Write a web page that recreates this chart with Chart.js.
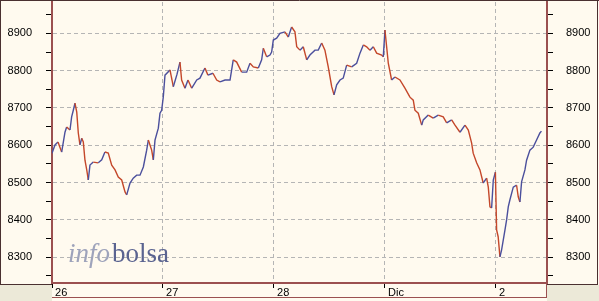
<!DOCTYPE html>
<html>
<head>
<meta charset="utf-8">
<script src="https://cdn.jsdelivr.net/npm/chart.js@4"></script>
<style>
  html, body { margin: 0; padding: 0; background: #fffaef; }
  canvas { display: block; }
</style>
</head>
<body>
<canvas id="chart" width="599" height="301"></canvas>
<script>
// etiquetas de los días (eje x en unidades de día)
const dayLabels = ['26', '27', '28', 'Dic', '2'];

// tiempo en días desde la apertura del 26
const times = [
  0.000, 0.027, 0.054, 0.087, 0.117, 0.132, 0.162, 0.177, 0.192, 0.207,
  0.223, 0.237, 0.252, 0.268, 0.282, 0.297, 0.313, 0.327, 0.342, 0.372,
  0.417, 0.448, 0.477, 0.507, 0.538, 0.568, 0.597, 0.628, 0.658, 0.673,
  0.703, 0.732, 0.763, 0.793, 0.823, 0.853, 0.868, 0.898, 0.913, 0.928,
  0.958, 0.973, 0.988,
  1.003, 1.018, 1.063, 1.093, 1.126, 1.153, 1.168, 1.198, 1.225, 1.259,
  1.304, 1.333, 1.378, 1.405, 1.450, 1.484, 1.514, 1.559, 1.604, 1.633,
  1.664, 1.709, 1.754, 1.784, 1.814, 1.859, 1.889, 1.904, 1.934, 1.964,
  1.979,
  1.994, 2.024, 2.054, 2.099, 2.129, 2.159, 2.189, 2.205, 2.234, 2.264,
  2.295, 2.324, 2.369, 2.399, 2.430, 2.459, 2.489, 2.520, 2.541, 2.565,
  2.595, 2.624, 2.655, 2.700, 2.745, 2.775, 2.805, 2.835, 2.865, 2.895,
  2.925, 2.970, 2.985,
  3.000, 3.030, 3.060, 3.090, 3.135, 3.180, 3.225, 3.255, 3.270, 3.300,
  3.331, 3.345, 3.390, 3.435, 3.480, 3.525, 3.556, 3.601, 3.631, 3.676,
  3.721, 3.751, 3.781, 3.795, 3.826, 3.856, 3.885, 3.916, 3.931, 3.946,
  3.961, 3.976, 3.995,
  4.006, 4.020, 4.036, 4.051, 4.081, 4.096, 4.111, 4.126, 4.156, 4.186,
  4.201, 4.216, 4.231, 4.261, 4.276, 4.306, 4.336, 4.366, 4.396, 4.410
];

// cotización
const prices = [
  8579, 8601, 8609, 8582, 8635, 8649, 8641, 8676, 8694, 8713,
  8689, 8633, 8601, 8619, 8609, 8560, 8534, 8507, 8547, 8555,
  8553, 8561, 8582, 8579, 8547, 8534, 8515, 8507, 8475, 8467,
  8499, 8512, 8520, 8520, 8542, 8587, 8614, 8587, 8561, 8614,
  8646, 8686, 8694,
  8730, 8788, 8802, 8757, 8790, 8823, 8775, 8753, 8775, 8753,
  8775, 8780, 8807, 8788, 8793, 8775, 8770, 8775, 8775, 8829,
  8823, 8796, 8796, 8820, 8810, 8807, 8829, 8860, 8837, 8842,
  8850,
  8882, 8887, 8900, 8904, 8890, 8917, 8904, 8864, 8855, 8864,
  8829, 8842, 8855, 8855, 8874, 8855, 8810, 8757, 8735, 8762,
  8775, 8780, 8815, 8810, 8820, 8847, 8869, 8864, 8855, 8864,
  8847, 8842, 8837,
  8909, 8820, 8775, 8783, 8775, 8753, 8729, 8721, 8694, 8686,
  8654, 8668, 8681, 8673, 8681, 8676, 8660, 8668, 8654, 8635,
  8654, 8641, 8606, 8579, 8553, 8534, 8499, 8512, 8488, 8435,
  8432, 8507, 8528,
  8373, 8355, 8301, 8320, 8373, 8400, 8435, 8454, 8488, 8493,
  8462, 8448, 8502, 8534, 8560, 8587, 8595, 8614, 8633, 8638
];

const BROWN = '#9b5050';
const CREAM = '#fffaef';
const GRID = '#b5b5b5';
const tickFont = { family: "'Liberation Sans', Arial, sans-serif", size: 11 };

// fondo, marco y marca de agua
const frame = {
  id: 'frame',
  beforeDraw(chart) {
    const { ctx, width, height, chartArea: a } = chart;
    ctx.save();
    ctx.fillStyle = CREAM;
    ctx.fillRect(0, 0, width, height);
    ctx.fillStyle = '#ece9d8';
    ctx.fillRect(0, a.bottom + 2, a.left, height);
    ctx.fillRect(a.right, a.bottom + 2, width - a.right, height);
    ctx.restore();
  },
  beforeDatasetsDraw(chart) {
    const { ctx, chartArea: a } = chart;
    ctx.save();
    ctx.textBaseline = 'alphabetic';
    ctx.font = "italic 27px 'Liberation Serif', 'DejaVu Serif', serif";
    ctx.fillStyle = '#9ea3bb';
    const x0 = a.left + 16, y0 = 262;
    ctx.fillText('info', x0, y0);
    const w = ctx.measureText('info').width;
    ctx.font = "27px 'Liberation Serif', 'DejaVu Serif', serif";
    ctx.fillStyle = '#5a6390';
    ctx.fillText('bolsa', x0 + w + 2, y0);
    ctx.restore();
  },
  afterDraw(chart) {
    const { ctx, width, chartArea: a } = chart;
    ctx.save();
    ctx.lineWidth = 1;
    ctx.strokeStyle = '#4a3030';
    ctx.beginPath();
    ctx.moveTo(0, 0.5); ctx.lineTo(width, 0.5);
    ctx.moveTo(0.5, 0); ctx.lineTo(0.5, a.bottom + 1);
    ctx.moveTo(width - 1.5, 0); ctx.lineTo(width - 1.5, a.bottom + 1);
    ctx.moveTo(0, a.bottom + 1.5); ctx.lineTo(a.left, a.bottom + 1.5);
    ctx.moveTo(a.right, a.bottom + 1.5); ctx.lineTo(width - 1, a.bottom + 1.5);
    ctx.stroke();
    ctx.strokeStyle = BROWN;
    ctx.beginPath();
    ctx.moveTo(a.left, 297.5); ctx.lineTo(a.right, 297.5);
    ctx.moveTo(a.right - 0.5, a.bottom); ctx.lineTo(a.right - 0.5, 298);
    ctx.stroke();
    ctx.restore();
  }
};

function noPadding(s) {
  s.paddingTop = 0;
  s.paddingBottom = 0;
  s.paddingLeft = 0;
  s.paddingRight = 0;
}

function yAxis(position, gridOnArea, padding) {
  return {
    position,
    min: 8231,
    max: 8984,
    afterFit: s => { s.width = 52; noPadding(s); },
    ticks: {
      stepSize: 50,
      includeBounds: false,
      padding,
      color: '#000',
      font: tickFont,
      callback: v => (v % 100 === 0 ? String(v) : '')
    },
    grid: {
      drawOnChartArea: gridOnArea,
      color: c => (c.tick && c.tick.value % 100 === 0 ? GRID : 'rgba(0,0,0,0)'),
      tickColor: '#000',
      tickLength: 6,
      lineWidth: 1
    },
    border: { color: BROWN, width: 2, dash: [4, 3] }
  };
}

new Chart(document.getElementById('chart'), {
  type: 'line',
  data: {
    datasets: [{
      data: times.map((t, i) => ({ x: t, y: prices[i] })),
      borderWidth: 1.4,
      pointRadius: 0,
      tension: 0,
      segment: {
        borderColor: c => (c.p1.parsed.y >= c.p0.parsed.y ? '#4b4f9c' : '#c4472a')
      }
    }]
  },
  options: {
    responsive: false,
    animation: false,
    layout: { padding: { top: 2, left: 0, right: 0, bottom: 0 } },
    plugins: { legend: { display: false }, tooltip: { enabled: false } },
    scales: {
      x: {
        type: 'linear',
        min: 0,
        max: 4.46,
        afterFit: s => { s.height = 18; noPadding(s); },
        ticks: {
          stepSize: 1,
          includeBounds: false,
          autoSkip: false,
          maxRotation: 0,
          align: 'start',
          padding: -2,
          color: '#000',
          font: tickFont,
          callback: v => ' ' + dayLabels[v]
        },
        grid: {
          color: c => (c.tick && c.tick.value > 0 ? GRID : 'rgba(0,0,0,0)'),
          tickColor: '#000',
          tickLength: 5,
          lineWidth: 1
        },
        border: { color: BROWN, width: 2, dash: [4, 3] }
      },
      y: yAxis('left', true, 14),
      y2: yAxis('right', false, 13)
    }
  },
  plugins: [frame]
});
</script>
</body>
</html>
